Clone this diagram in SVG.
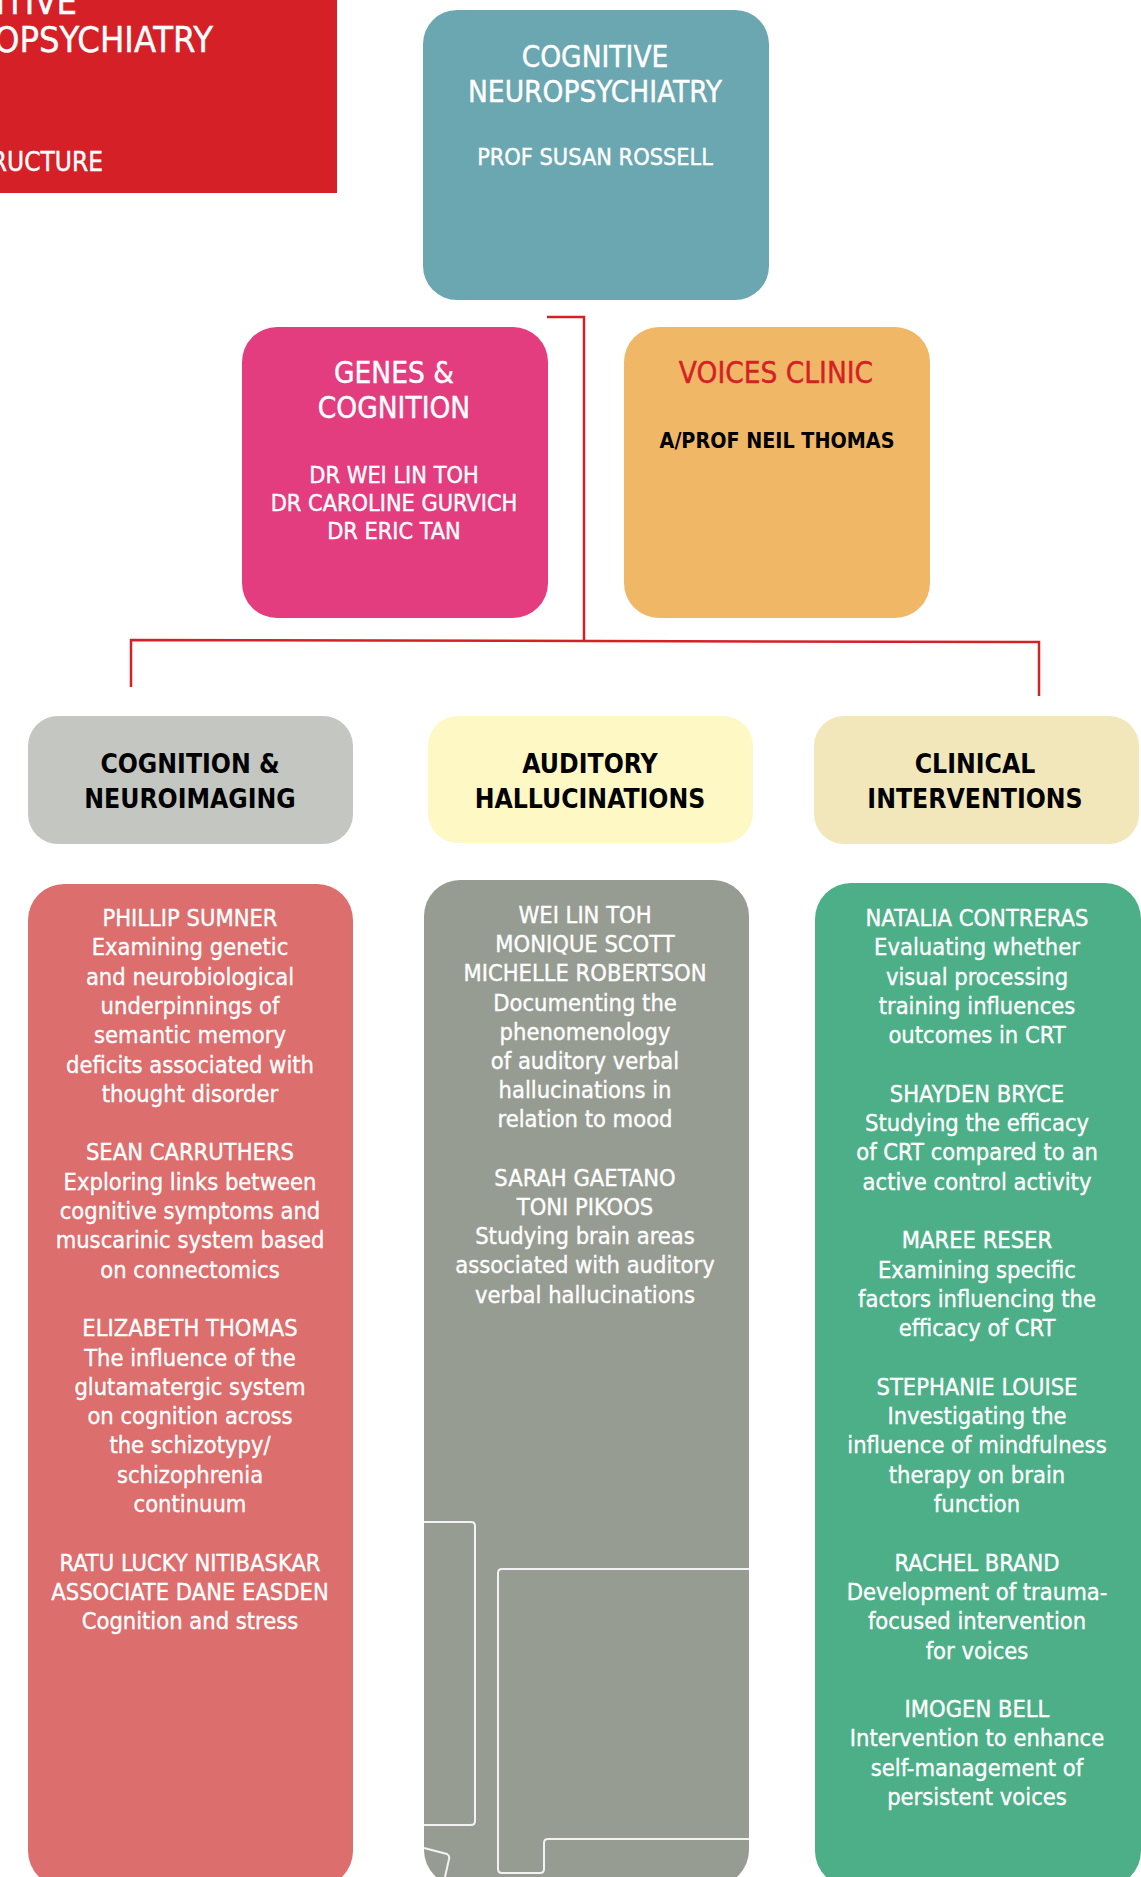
<svg xmlns="http://www.w3.org/2000/svg" width="1141" height="1877" viewBox="0 0 1141 1877">
<style>
text{font-family:"DejaVu Sans Condensed","DejaVu Sans",sans-serif;text-anchor:middle}
.w{fill:#ffffff;stroke:#ffffff;stroke-width:0.4}
.k{fill:#000000}
.h1{font-size:29.5px}
.h2{font-size:23.3px}
.hd{font-size:26.3px;font-weight:bold;fill:#000}
.b{font-size:23.5px;fill:#fff;stroke:#fff;stroke-width:0.35}
.con{fill:none;stroke:#d42027;stroke-width:2.5}
.deco{fill:none;stroke:#f2f2f2;stroke-width:2}
</style>
<g id="title">
<rect x="-20" y="-20" width="357" height="213" fill="#d62027"/>
<text class="w" x="77" y="14" style="font-size:36px;text-anchor:end">ITIVE</text>
<text class="w" x="213" y="52" style="font-size:36px;text-anchor:end">OPSYCHIATRY</text>
<text class="w" x="103" y="171" style="font-size:26px;text-anchor:end">RUCTURE</text>
</g>
<g id="connectors">
<path class="con" d="M547,317 H584 V640"/>
<path class="con" d="M131,687 V640 L1039,642 V696"/>
</g>
<g id="node-cognitive-neuropsychiatry">
<rect x="423" y="10" width="346" height="290" rx="34" fill="#6ba7b0"/>
<text class="w h1" x="595" y="67">COGNITIVE</text>
<text class="w h1" x="595" y="102">NEUROPSYCHIATRY</text>
<text class="w h2" x="595" y="165">PROF SUSAN ROSSELL</text>
</g>
<g id="node-genes-cognition">
<rect x="242" y="327" width="306" height="291" rx="35" fill="#e33d7f"/>
<text class="w h1" x="394" y="383">GENES &amp;</text>
<text class="w h1" x="394" y="418">COGNITION</text>
<text class="w h2" x="394" y="483">DR WEI LIN TOH</text>
<text class="w h2" x="394" y="511">DR CAROLINE GURVICH</text>
<text class="w h2" x="394" y="539">DR ERIC TAN</text>
</g>
<g id="node-voices-clinic">
<rect x="624" y="327" width="306" height="291" rx="35" fill="#f0b866"/>
<text class="h1" x="776" y="383" fill="#d42027" stroke="#d42027" stroke-width="0.4">VOICES CLINIC</text>
<text class="k" x="777" y="448" font-weight="bold" font-size="21.3px">A/PROF NEIL THOMAS</text>
</g>
<g id="node-cognition-neuroimaging">
<rect x="28" y="716" width="325" height="128" rx="30" fill="#c4c6c1"/>
<text class="hd" x="190" y="773">COGNITION &amp;</text>
<text class="hd" x="190" y="808">NEUROIMAGING</text>
</g>
<g id="node-auditory-hallucinations">
<rect x="428" y="716" width="325" height="127" rx="30" fill="#fef8c4"/>
<text class="hd" x="590" y="773">AUDITORY</text>
<text class="hd" x="590" y="808">HALLUCINATIONS</text>
</g>
<g id="node-clinical-interventions">
<rect x="814" y="716" width="325" height="128" rx="30" fill="#f2e7bb"/>
<text class="hd" x="975" y="773">CLINICAL</text>
<text class="hd" x="975" y="808">INTERVENTIONS</text>
</g>
<g id="node-cognition-projects">
<rect x="28" y="884" width="325" height="1003" rx="36" fill="#dc6e6e"/>
<text class="b" x="190" y="926">PHILLIP SUMNER</text>
<text class="b" x="190" y="955.3">Examining genetic</text>
<text class="b" x="190" y="984.6">and neurobiological</text>
<text class="b" x="190" y="1013.9">underpinnings of</text>
<text class="b" x="190" y="1043.2">semantic memory</text>
<text class="b" x="190" y="1072.5">deficits associated with</text>
<text class="b" x="190" y="1101.8">thought disorder</text>
<text class="b" x="190" y="1160.4">SEAN CARRUTHERS</text>
<text class="b" x="190" y="1189.7">Exploring links between</text>
<text class="b" x="190" y="1219">cognitive symptoms and</text>
<text class="b" x="190" y="1248.3">muscarinic system based</text>
<text class="b" x="190" y="1277.6">on connectomics</text>
<text class="b" x="190" y="1336.2">ELIZABETH THOMAS</text>
<text class="b" x="190" y="1365.5">The influence of the</text>
<text class="b" x="190" y="1394.8">glutamatergic system</text>
<text class="b" x="190" y="1424.1">on cognition across</text>
<text class="b" x="190" y="1453.4">the schizotypy/</text>
<text class="b" x="190" y="1482.7">schizophrenia</text>
<text class="b" x="190" y="1512">continuum</text>
<text class="b" x="190" y="1570.6">RATU LUCKY NITIBASKAR</text>
<text class="b" x="190" y="1599.9">ASSOCIATE DANE EASDEN</text>
<text class="b" x="190" y="1629.2">Cognition and stress</text>
</g>
<g id="node-auditory-projects">
<rect x="424" y="880" width="325" height="1006" rx="36" fill="#979c92"/>
<path class="deco" d="M424,1522 H471 Q475,1522 475,1526 V1821 Q475,1825 471,1825 H424"/>
<path class="deco" d="M749,1569 H502 Q498,1569 498,1573 V1869 Q498,1873 502,1873 H540 Q544,1873 544,1869 V1843 Q544,1839 548,1839 H749"/>
<path class="deco" d="M424,1848 L447,1854 Q450,1856 449,1859 L445,1877"/>
<text class="b" x="585" y="923">WEI LIN TOH</text>
<text class="b" x="585" y="952.2">MONIQUE SCOTT</text>
<text class="b" x="585" y="981.4">MICHELLE ROBERTSON</text>
<text class="b" x="585" y="1010.6">Documenting the</text>
<text class="b" x="585" y="1039.8">phenomenology</text>
<text class="b" x="585" y="1069">of auditory verbal</text>
<text class="b" x="585" y="1098.2">hallucinations in</text>
<text class="b" x="585" y="1127.4">relation to mood</text>
<text class="b" x="585" y="1185.8">SARAH GAETANO</text>
<text class="b" x="585" y="1215">TONI PIKOOS</text>
<text class="b" x="585" y="1244.2">Studying brain areas</text>
<text class="b" x="585" y="1273.4">associated with auditory</text>
<text class="b" x="585" y="1302.6">verbal hallucinations</text>
</g>
<g id="node-clinical-projects">
<rect x="815" y="883" width="326" height="1004" rx="36" fill="#4daf88"/>
<text class="b" x="977" y="926">NATALIA CONTRERAS</text>
<text class="b" x="977" y="955.3">Evaluating whether</text>
<text class="b" x="977" y="984.6">visual processing</text>
<text class="b" x="977" y="1013.9">training influences</text>
<text class="b" x="977" y="1043.2">outcomes in CRT</text>
<text class="b" x="977" y="1101.8">SHAYDEN BRYCE</text>
<text class="b" x="977" y="1131.1">Studying the efficacy</text>
<text class="b" x="977" y="1160.4">of CRT compared to an</text>
<text class="b" x="977" y="1189.7">active control activity</text>
<text class="b" x="977" y="1248.3">MAREE RESER</text>
<text class="b" x="977" y="1277.6">Examining specific</text>
<text class="b" x="977" y="1306.9">factors influencing the</text>
<text class="b" x="977" y="1336.2">efficacy of CRT</text>
<text class="b" x="977" y="1394.8">STEPHANIE LOUISE</text>
<text class="b" x="977" y="1424.1">Investigating the</text>
<text class="b" x="977" y="1453.4">influence of mindfulness</text>
<text class="b" x="977" y="1482.7">therapy on brain</text>
<text class="b" x="977" y="1512">function</text>
<text class="b" x="977" y="1570.6">RACHEL BRAND</text>
<text class="b" x="977" y="1599.9">Development of trauma-</text>
<text class="b" x="977" y="1629.2">focused intervention</text>
<text class="b" x="977" y="1658.5">for voices</text>
<text class="b" x="977" y="1717.1">IMOGEN BELL</text>
<text class="b" x="977" y="1746.4">Intervention to enhance</text>
<text class="b" x="977" y="1775.7">self-management of</text>
<text class="b" x="977" y="1805">persistent voices</text>
</g>
</svg>
